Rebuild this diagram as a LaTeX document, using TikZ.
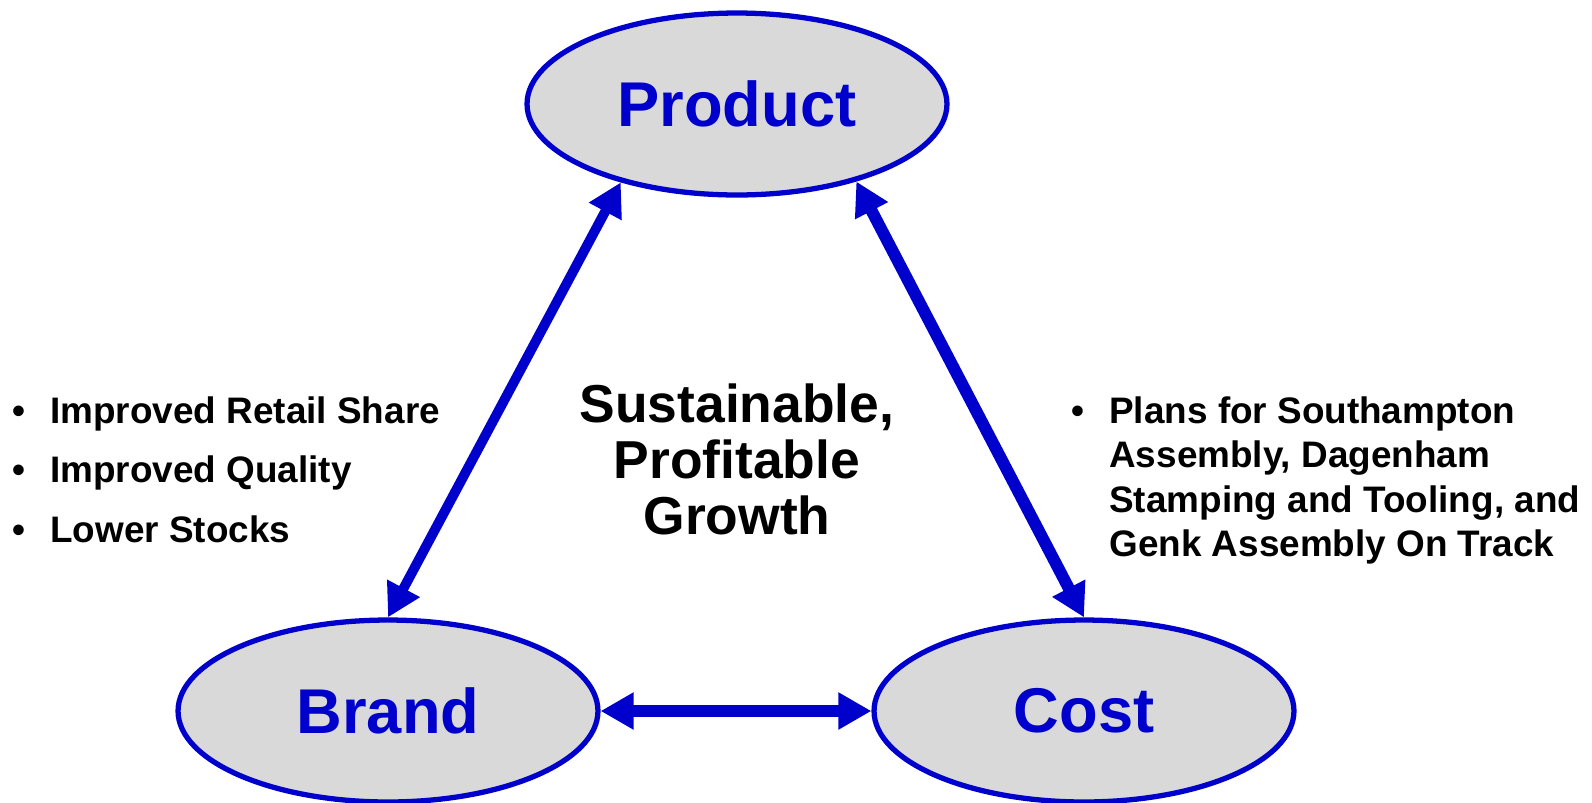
\documentclass[tikz,border=0pt]{standalone}
\usepackage{fontspec}
\setmainfont{Liberation Sans}
\usepackage{xcolor}
\usepackage{tikz}
\usetikzlibrary{shapes.geometric,arrows.meta}
\definecolor{ringblue}{HTML}{0000CC}
\definecolor{ringgray}{HTML}{D9D9D9}

\begin{document}
\begin{tikzpicture}[x=0.02cm, y=-0.02cm,
	pillar/.style={ellipse, draw=ringblue, fill=ringgray, line width=3pt, minimum width=8.4cm, minimum height=3.64cm, inner sep=0pt, text=ringblue, font=\fontsize{36}{40}\selectfont\bfseries},
	link/.style={draw=ringblue, line width=6.8pt, {Triangle[length=0.66cm,width=0.7cm]}-{Triangle[length=0.66cm,width=0.7cm]}},
	notes/.style={anchor=base west, inner sep=0pt, font=\fontsize{21}{33.9}\selectfont\bfseries}]
					\useasboundingbox (0,0) rectangle (1592,802);
					% the three pillars
					\node[pillar] (product) at (737,104) {Product};
					\node[pillar] (brand) at (388,711) {Brand};
					\node[pillar] (cost) at (1084,711) {Cost};
					% links between them
					\draw[link, line width=5.6pt] (product.-146) -- (brand.north);
					\draw[link] (product.-33) -- (cost.north);
					\draw[link] (brand.east) -- (cost.west);
					% centre text
					\node[anchor=base, inner sep=0pt, font=\fontsize{30.4}{31.9}\selectfont\bfseries] (growth) at (737,422) {\begin{tabular}[t]{@{}c@{}}Sustainable,\\Profitable\\Growth\end{tabular}};
					% side notes
					\node[notes] (retail) at (12,423) {\begin{tabular}[t]{@{}l@{}}
						\makebox[0.76cm][l]{\textbullet}Improved Retail Share\\
						\makebox[0.76cm][l]{\textbullet}Improved Quality\\
						\makebox[0.76cm][l]{\textbullet}Lower Stocks
					\end{tabular}};
					\node[notes, font=\fontsize{21}{25.4}\selectfont\bfseries] (plans) at (1071,423) {\begin{tabular}[t]{@{}l@{}}
						\makebox[0.76cm][l]{\textbullet}Plans for Southampton\\
						\hspace{0.76cm}Assembly, Dagenham\\
						\hspace{0.76cm}Stamping and Tooling, and\\
						\hspace{0.76cm}Genk Assembly On Track
					\end{tabular}};
				\end{tikzpicture}
\end{document}
